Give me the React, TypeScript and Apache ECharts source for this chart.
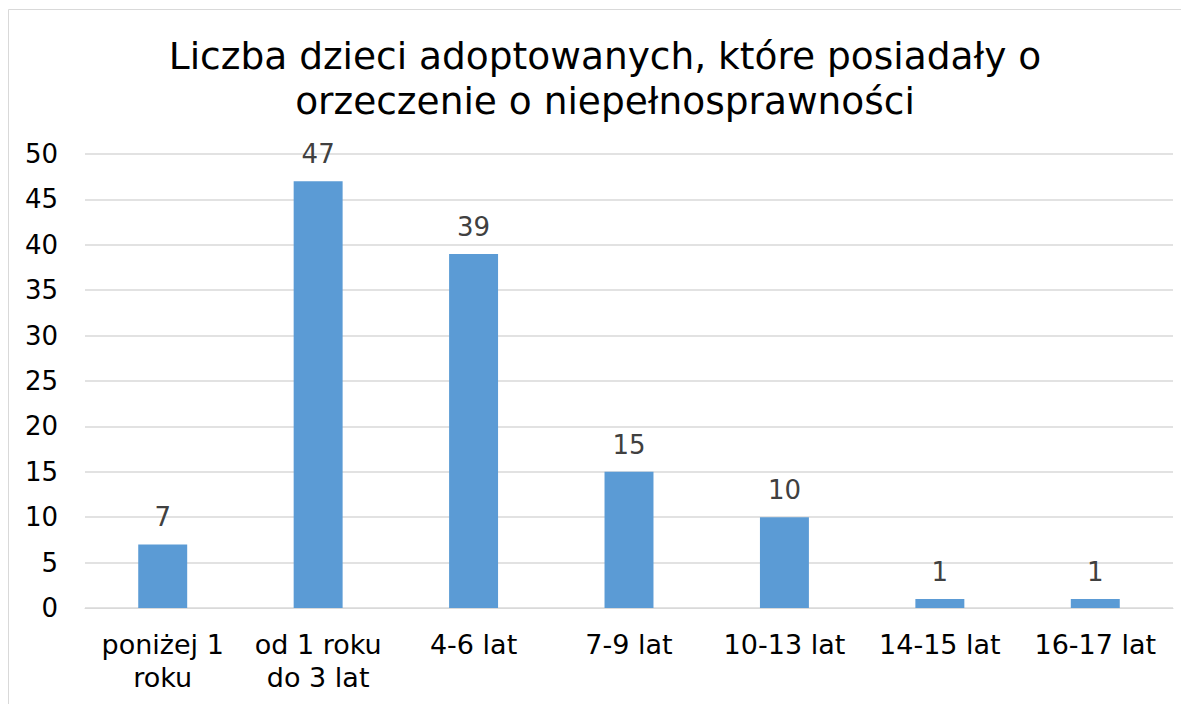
import React, { useEffect, useRef } from "react";
import * as echarts from "echarts";

const titleLines = ["Liczba dzieci adoptowanych, które posiadały o", "orzeczenie o niepełnosprawności"];
const categories = ["poniżej 1\nroku", "od 1 roku\ndo 3 lat", "4-6 lat", "7-9 lat", "10-13 lat", "14-15 lat", "16-17 lat"];
const values = [7, 47, 39, 15, 10, 1, 1];
const yTicks = { min: 0, max: 50, interval: 5 };

export default function App() {
  const ref = useRef<HTMLDivElement>(null);
  useEffect(() => {
    if (!ref.current) return;
    const chart = echarts.init(ref.current, undefined, { renderer: "svg" });
    const font = "'DejaVu Sans', Verdana, sans-serif";
    chart.setOption({
      animation: false,
      textStyle: { fontFamily: font },
      title: {
        text: titleLines.join("\n"),
        left: 592,
        top: 20,
        textAlign: "center",
        textStyle: { fontFamily: font, fontSize: 37.5, fontWeight: "normal", color: "#000", lineHeight: 45 },
      },
      graphic: [
        {
          type: "rect",
          shape: { x: 0.5, y: 1.5, width: 1300, height: 900 },
          style: { fill: "none", stroke: "#d9d9d9", lineWidth: 1 },
          silent: true,
        },
      ],
      grid: { left: 77, right: 16, top: 146, bottom: 96, containLabel: false },
      xAxis: {
        type: "category",
        data: categories,
        axisLine: { show: true, lineStyle: { color: "#d9d9d9", width: 1 } },
        axisTick: { show: false },
        axisLabel: { color: "#000", fontSize: 27, fontFamily: font, lineHeight: 33, margin: 20, interval: 0 },
      },
      yAxis: {
        type: "value",
        min: yTicks.min,
        max: yTicks.max,
        interval: yTicks.interval,
        axisLine: { show: false },
        axisTick: { show: false },
        splitLine: { lineStyle: { color: "#d9d9d9", width: 1.5 } },
        axisLabel: { color: "#000", fontSize: 26, fontFamily: font, margin: 27 },
      },
      series: [
        {
          type: "bar",
          data: values,
          barWidth: "31.5%",
          itemStyle: { color: "#5b9bd5" },
          label: { show: true, position: "top", distance: 14, color: "#404040", fontSize: 26, fontFamily: font },
        },
      ],
    });
    return () => chart.dispose();
  }, []);
  return <div ref={ref} style={{ width: 1181, height: 696 }} />;
}
